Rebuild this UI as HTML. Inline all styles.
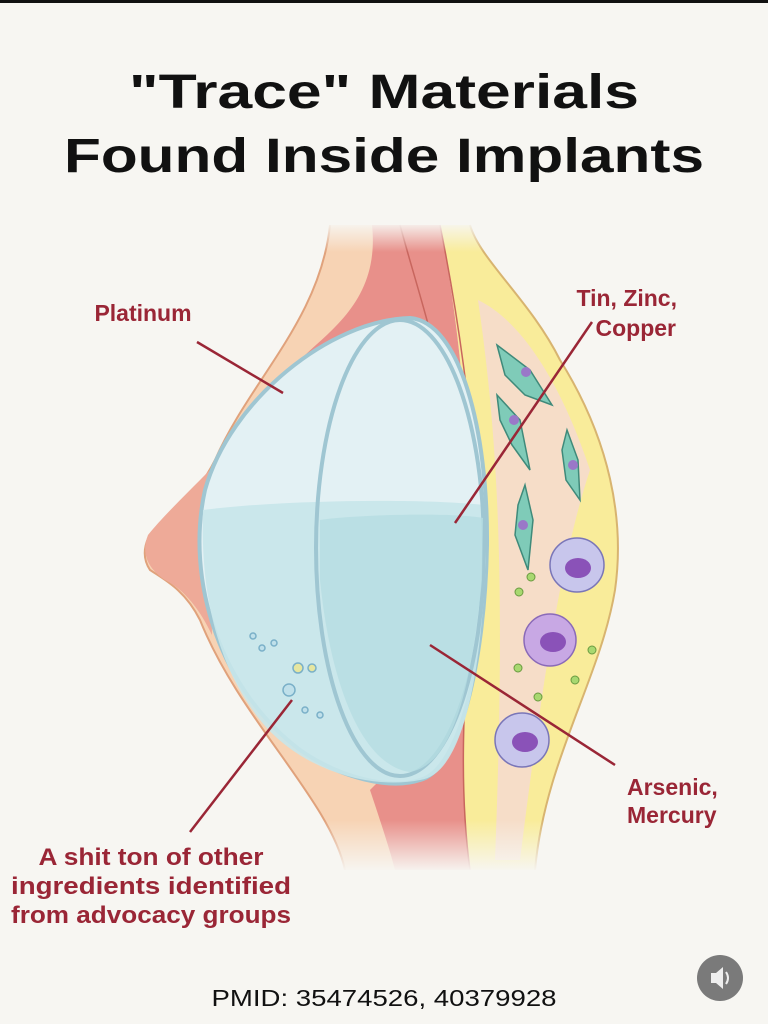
<!DOCTYPE html>
<html><head><meta charset="utf-8"><style>
html,body{margin:0;padding:0;background:#f7f6f2}
svg{display:block}
</style></head><body>
<svg width="768" height="1024" viewBox="0 0 768 1024" xmlns="http://www.w3.org/2000/svg" font-family="Liberation Sans, DejaVu Sans, sans-serif">
<defs>
<linearGradient id="fb" x1="0" y1="0" x2="0" y2="1"><stop offset="0" stop-color="#f7f6f2" stop-opacity="0"/><stop offset="1" stop-color="#f7f6f2" stop-opacity="1"/></linearGradient>
<linearGradient id="ft" x1="0" y1="0" x2="0" y2="1"><stop offset="0" stop-color="#f7f6f2" stop-opacity="1"/><stop offset="1" stop-color="#f7f6f2" stop-opacity="0"/></linearGradient>
</defs>
<rect width="768" height="1024" fill="#f7f6f2"/>
<rect width="768" height="3" fill="#111"/>
<text x="384" y="108" text-anchor="middle" font-size="48" font-weight="bold" fill="#111" textLength="510" lengthAdjust="spacingAndGlyphs">"Trace" Materials</text>
<text x="384" y="172" text-anchor="middle" font-size="48" font-weight="bold" fill="#111" textLength="640" lengthAdjust="spacingAndGlyphs">Found Inside Implants</text>

<!-- fat layer -->
<path d="M470,225 C480,260 530,300 560,360 C610,440 625,520 615,590 C600,680 545,760 535,870 L470,870 C455,760 470,650 470,540 C470,420 455,300 440,225 Z" fill="#f9ec9a"/>
<path d="M470,225 C480,260 530,300 560,360 C610,440 625,520 615,590 C600,680 545,760 535,870" fill="none" stroke="#d8b470" stroke-width="2"/>
<path d="M478,300 C500,450 505,600 495,860 L520,860 C540,700 560,560 590,470 C560,380 520,320 478,300Z" fill="#f6dad0" opacity="0.85"/>
<!-- skin -->
<path d="M330,225 C320,320 250,380 215,460 C200,490 180,510 160,525 C145,535 140,555 150,570 C165,580 185,590 200,620 C240,720 330,800 345,870 L420,870 C400,790 330,760 330,560 C330,360 400,300 400,225 Z" fill="#f7d3b4"/>
<path d="M330,225 C320,320 250,380 215,460 C200,490 180,510 160,525 C145,535 140,555 150,570 C165,580 185,590 200,620 C240,720 330,800 345,870" fill="none" stroke="#e0a27c" stroke-width="2"/>
<path d="M210,470 C180,500 160,520 148,535 C140,555 150,570 165,580 C185,590 200,610 212,635 Z" fill="#eeaa98"/>
<!-- muscle -->
<path d="M372,225 C380,300 330,330 300,360 L420,330 C440,420 470,500 480,560 C470,700 400,760 370,790 C380,820 390,850 395,870 L470,870 C455,760 470,650 470,540 C470,420 455,300 440,225 Z" fill="#e8908a"/>
<path d="M400,225 C420,300 450,380 470,540 C470,650 455,760 470,870" fill="none" stroke="#c8665e" stroke-width="1.5"/>
<path d="M440,225 C455,300 475,420 478,540" fill="none" stroke="#c8665e" stroke-width="1.5"/>
<!-- cells -->
<g fill="#7fcbb8" stroke="#3f8a7a" stroke-width="1.5">
<path d="M497,345 L530,370 L552,405 L525,395 L505,375Z"/>
<path d="M497,395 L520,420 L530,470 L512,445 L500,420Z"/>
<path d="M567,430 L578,460 L580,500 L566,480 L562,450Z"/>
<path d="M525,485 L533,520 L528,570 L515,535 L518,505Z"/>
</g>
<g fill="#9a78c8"><circle cx="526" cy="372" r="5"/><circle cx="514" cy="420" r="5"/><circle cx="573" cy="465" r="5"/><circle cx="523" cy="525" r="5"/></g>
<g fill="#c8c6ec" stroke="#7a76b8" stroke-width="1.5">
<circle cx="577" cy="565" r="27"/><circle cx="522" cy="740" r="27"/>
</g>
<g fill="#8a52b8"><ellipse cx="578" cy="568" rx="13" ry="10"/><ellipse cx="525" cy="742" rx="13" ry="10"/></g>
<circle cx="550" cy="640" r="26" fill="#c8a8e4" stroke="#8a6ab8" stroke-width="1.5"/><ellipse cx="553" cy="642" rx="13" ry="10" fill="#8a52b8"/>
<g fill="#a8d870" stroke="#6a9a40"><circle cx="531" cy="577" r="4"/><circle cx="519" cy="592" r="4"/><circle cx="592" cy="650" r="4"/><circle cx="518" cy="668" r="4"/><circle cx="575" cy="680" r="4"/><circle cx="538" cy="697" r="4"/></g>
<!-- implant -->
<path d="M410,318 C330,320 230,400 205,490 C185,580 220,690 300,750 C340,778 390,790 420,780 C460,770 485,660 487,545 C488,430 460,322 410,318Z" fill="#e3f1f4" stroke="#9fc6d2" stroke-width="4"/>
<path d="M203,510 C280,500 420,498 484,505 L486,560 C480,690 460,775 420,780 C370,790 300,770 260,720 C220,670 200,600 203,510Z" fill="#c6e6ea" opacity="0.9"/>
<ellipse cx="400" cy="548" rx="84" ry="228" fill="none" stroke="#9fc6d2" stroke-width="4"/>
<path d="M320,520 C350,515 450,512 483,518 L482,580 C470,700 450,765 410,772 C360,765 330,680 320,580Z" fill="#b5dde2" opacity="0.8"/>
<g stroke="#7ab0c8" stroke-width="1.5" fill="#bfe0ea"><circle cx="253" cy="636" r="3"/><circle cx="262" cy="648" r="3"/><circle cx="274" cy="643" r="3"/><circle cx="289" cy="690" r="6"/><circle cx="298" cy="668" r="5" fill="#e6e6a0"/><circle cx="312" cy="668" r="4" fill="#e6e6a0"/><circle cx="305" cy="710" r="3"/><circle cx="320" cy="715" r="3"/></g>
<rect x="300" y="820" width="300" height="52" fill="url(#fb)"/>
<rect x="300" y="222" width="300" height="30" fill="url(#ft)"/>
<!-- leaders -->
<g stroke="#9a2636" stroke-width="2.5">
<line x1="197" y1="342" x2="283" y2="393"/>
<line x1="592" y1="322" x2="455" y2="523"/>
<line x1="430" y1="645" x2="615" y2="765"/>
<line x1="190" y1="832" x2="292" y2="700"/>
</g>
<g fill="#9a2636" font-weight="bold" font-size="23">
<text x="143" y="321" text-anchor="middle">Platinum</text>
<text x="677" y="306" text-anchor="end">Tin, Zinc,</text>
<text x="676" y="336" text-anchor="end">Copper</text>
<text x="627" y="795">Arsenic,</text>
<text x="627" y="823">Mercury</text>
<text x="151" y="865" text-anchor="middle" font-size="24" textLength="225" lengthAdjust="spacingAndGlyphs">A shit ton of other</text>
<text x="151" y="894" text-anchor="middle" font-size="24" textLength="280" lengthAdjust="spacingAndGlyphs">ingredients identified</text>
<text x="151" y="923" text-anchor="middle" font-size="24" textLength="280" lengthAdjust="spacingAndGlyphs">from advocacy groups</text>
</g>
<text x="384" y="1006" text-anchor="middle" font-size="23" fill="#111" textLength="345" lengthAdjust="spacingAndGlyphs">PMID: 35474526, 40379928</text>
<circle cx="720" cy="978" r="23" fill="#7a7a7a"/>
<path d="M711,973 h5 l7,-6 v22 l-7,-6 h-5z" fill="#eee"/>
<path d="M726,972 q4,6 0,12" stroke="#eee" stroke-width="2" fill="none"/>
</svg>
</body></html>
